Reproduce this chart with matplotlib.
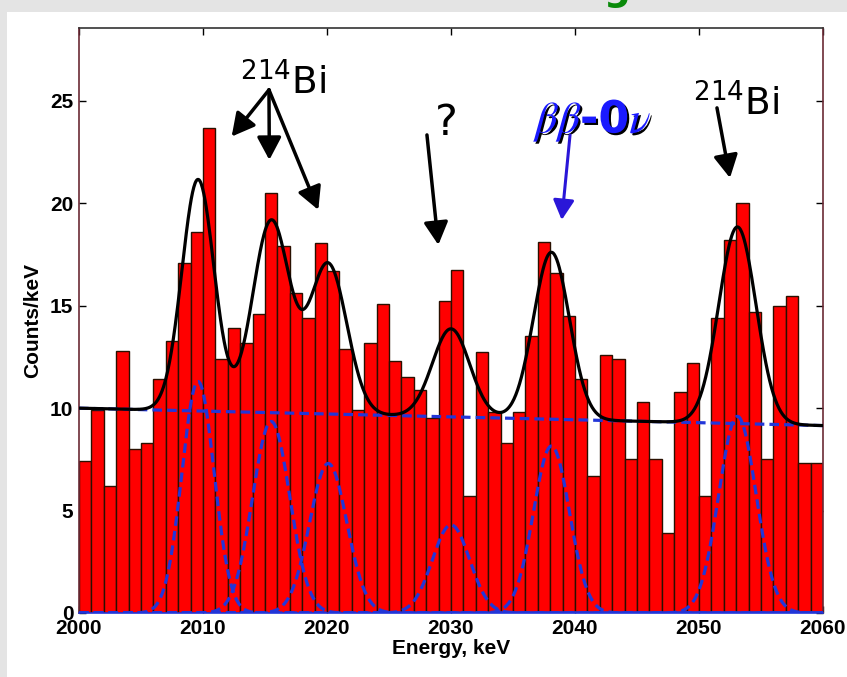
import numpy as np
import matplotlib
matplotlib.use("Agg")
import matplotlib.pyplot as plt
import matplotlib.patheffects as pe
from matplotlib.patches import Rectangle

# ---- data ----
bin_edges_start = 2000
bin_width = 1.0
counts = [7.4, 9.9, 6.2, 12.8, 8.0, 8.3, 11.4, 13.3, 17.1, 18.6,
          23.7, 12.4, 13.9, 13.2, 14.6, 20.5, 17.9, 15.6, 14.4, 18.05,
          16.7, 12.9, 9.9, 13.2, 15.1, 12.3, 11.5, 10.9, 9.5, 15.25,
          16.75, 5.7, 12.75, 9.8, 8.3, 9.8, 13.5, 18.1, 16.6, 14.5,
          11.4, 6.7, 12.6, 12.4, 7.5, 10.3, 7.5, 3.9, 10.8, 12.2,
          5.7, 14.4, 18.2, 20.0, 14.7, 7.5, 15.0, 15.5, 7.3, 7.3]
energies = [bin_edges_start + i * bin_width for i in range(len(counts))]

# fit model parameters (linear background + gaussian peaks)
bg_ends = [10.0, 9.15]          # background at 2000 and 2060 keV
peak_centers = [2009.6, 2015.5, 2020.1, 2030.0, 2038.1, 2053.1]
peak_amps = [11.3, 9.35, 7.3, 4.3, 8.15, 9.6]
peak_sigmas = [1.3, 1.5, 1.5, 1.5, 1.45, 1.5]

xticks = [2000, 2010, 2020, 2030, 2040, 2050, 2060]
yticks = [0, 5, 10, 15, 20, 25]

# ---- figure ----
fig = plt.figure(figsize=(8.47, 6.77), dpi=100)
fig.patch.set_facecolor('white')
gray = '#e4e4e4'
fig.patches.append(Rectangle((0, 0), 7 / 847, 1, transform=fig.transFigure,
                             facecolor=gray, edgecolor='none', zorder=-10))
fig.patches.append(Rectangle((0, 1 - 12 / 677), 1, 12 / 677, transform=fig.transFigure,
                             facecolor=gray, edgecolor='none', zorder=-10))
fig.text(603 / 847, 1.0, 'g', fontsize=27, color='#0a8a0a', va='baseline',
         ha='left', fontweight='bold', family='DejaVu Sans')

ax = fig.add_axes([79 / 847, 1 - 613 / 677, 744 / 847, 585 / 677])

ax.bar(energies, counts, width=bin_width, align='edge', color='#ff0000',
       edgecolor='#2a1000', linewidth=1.0, zorder=2)

x = np.linspace(2000, 2060, 1200)
bg = np.interp(x, [2000, 2060], bg_ends)
total = bg.copy()
dash = (0, (3.0, 1.6))
blue = '#2236d8'
for c, a, s in zip(peak_centers, peak_amps, peak_sigmas):
    g = a * np.exp(-0.5 * ((x - c) / s) ** 2)
    total += g
    ax.plot(x, g, color=blue, lw=2.3, linestyle=dash, zorder=3)
ax.plot(x, bg, color=blue, lw=2.3, linestyle=dash, zorder=3)
ax.plot(x, total, color='black', lw=2.3, zorder=4)

ax.set_xlim(2000, 2060)
ax.set_ylim(0, 28.56)
ax.set_xticks(xticks)
ax.set_yticks(yticks)
tick_font = dict(family=['Liberation Sans', 'DejaVu Sans'], weight='bold', size=15)
ax.set_xticklabels([str(t) for t in xticks], fontdict=tick_font)
ax.set_yticklabels([str(t) for t in yticks], fontdict=tick_font)
ax.tick_params(direction='in', length=5, width=1.0, top=True, right=True,
               labeltop=False, labelright=False, pad=4)
ax.set_xlabel('Energy, keV', fontdict=tick_font, labelpad=1)
ax.set_ylabel('Counts/keV', fontdict=tick_font, labelpad=6)

for side in ['left', 'right']:
    ax.spines[side].set_color('#6b2a35')
ax.spines['top'].set_color('#333333')
ax.spines['bottom'].set_color(blue)
for sp in ax.spines.values():
    sp.set_linewidth(1.2)

# ---- annotations ----
def arrow(tip, start, color='black', lw=2.5, ms=23):
    ax.annotate('', xy=tip, xytext=start,
                arrowprops=dict(arrowstyle='-|>,head_length=0.6,head_width=0.32',
                                lw=lw, color=color, mutation_scale=ms,
                                shrinkA=0, shrinkB=0), zorder=6)

label_font = dict(family='DejaVu Sans', size=27)
ax.text(2012.98, 25.29, r'$^{214}$Bi', color='black', ha='left', va='baseline',
        math_fontfamily='dejavusans', zorder=6, **label_font)
start1 = (2015.32, 25.54)
arrow((2012.31, 23.26), start1)
arrow((2015.35, 22.12), start1)
arrow((2019.30, 19.68), start1)

ax.text(2049.52, 24.27, r'$^{214}$Bi', color='black', ha='left', va='baseline',
        math_fontfamily='dejavusans', zorder=6, **label_font)
arrow((2052.5, 21.24), (2051.45, 24.66))

ax.text(2028.71, 23.34, '?', color='black', ha='left', va='baseline',
        family='DejaVu Sans', size=31, zorder=6)
arrow((2028.98, 17.97), (2028.06, 23.34))

bb = ax.text(2036.77, 23.44, r'$\beta\beta$-0$\nu$', color='#1a1aff', ha='left',
             va='baseline', family='DejaVu Sans', weight='bold', size=32,
             math_fontfamily='stix', zorder=6)
bb.set_path_effects([pe.withSimplePatchShadow(offset=(1.5, -1.5),
                                              shadow_rgbFace='black', alpha=1.0)])
arrow((2038.93, 19.19), (2039.6, 23.34), color='#2a16d8', lw=2.2, ms=20)

fig.savefig('out.png', dpi=100, facecolor=fig.get_facecolor())
